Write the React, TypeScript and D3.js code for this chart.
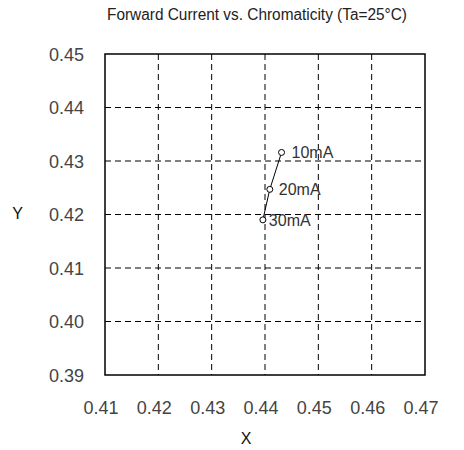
import React from "react";
import * as d3 from "d3";

const xTicks = [0.41, 0.42, 0.43, 0.44, 0.45, 0.46, 0.47];
const yTicks = [0.39, 0.4, 0.41, 0.42, 0.43, 0.44, 0.45];
const currents = ["10mA", "20mA", "30mA"];
const xValues = [0.4431, 0.4409, 0.4396];
const yValues = [0.4316, 0.4247, 0.419];
const labelDx = [10, 9, 6];

const W = 464;
const H = 450;
const left = 105, right = 425, top = 54, bottom = 375;

export default function App() {
  const x = d3.scaleLinear().domain([0.41, 0.47]).range([left, right]);
  const y = d3.scaleLinear().domain([0.39, 0.45]).range([bottom, top]);
  const pts = xValues.map((v, i) => [x(v), y(yValues[i])] as [number, number]);
  const line = d3.line()(pts) || "";
  const font = "'Liberation Sans', Arial, sans-serif";
  return (
    <svg width={W} height={H} style={{ position: "absolute", left: 0, top: 0, background: "#fff" }}>
      <rect x={0} y={0} width={W} height={H} fill="#fff" />
      <text x={257} y={19.5} fontFamily={font} fontSize={16} fill="#222" textAnchor="middle" textLength={300} lengthAdjust="spacingAndGlyphs">
        Forward Current vs. Chromaticity (Ta=25°C)
      </text>
      {xTicks.slice(1, -1).map((t) => (
        <line key={"gx" + t} x1={x(t)} x2={x(t)} y1={top} y2={bottom} stroke="#000" strokeWidth={1} strokeDasharray="6,4" />
      ))}
      {yTicks.slice(1, -1).map((t) => (
        <line key={"gy" + t} x1={left} x2={right} y1={y(t)} y2={y(t)} stroke="#000" strokeWidth={1} strokeDasharray="6,4" />
      ))}
      <rect x={left} y={top} width={right - left} height={bottom - top} fill="none" stroke="#000" strokeWidth={1.5} />
      {xTicks.map((t) => (
        <text key={"xt" + t} x={x(t) - 4} y={414} fontFamily={font} fontSize={18} fill="#444" textAnchor="middle">
          {t.toFixed(2)}
        </text>
      ))}
      {yTicks.map((t) => (
        <text key={"yt" + t} x={84} y={y(t) + 6.5} fontFamily={font} fontSize={18} fill="#444" textAnchor="end">
          {t.toFixed(2)}
        </text>
      ))}
      <text x={246} y={444} fontFamily={font} fontSize={16} fill="#111" textAnchor="middle">X</text>
      <text x={17.5} y={219} fontFamily={font} fontSize={16} fill="#111" textAnchor="middle">Y</text>
      <path d={line} fill="none" stroke="#000" strokeWidth={1} />
      {pts.map((p, i) => (
        <g key={currents[i]}>
          <circle cx={p[0]} cy={p[1]} r={3} fill="#fff" stroke="#000" strokeWidth={1} />
          <text x={p[0] + labelDx[i]} y={p[1] + 6} fontFamily={font} fontSize={16} fill="#333">
            {currents[i]}
          </text>
        </g>
      ))}
    </svg>
  );
}
